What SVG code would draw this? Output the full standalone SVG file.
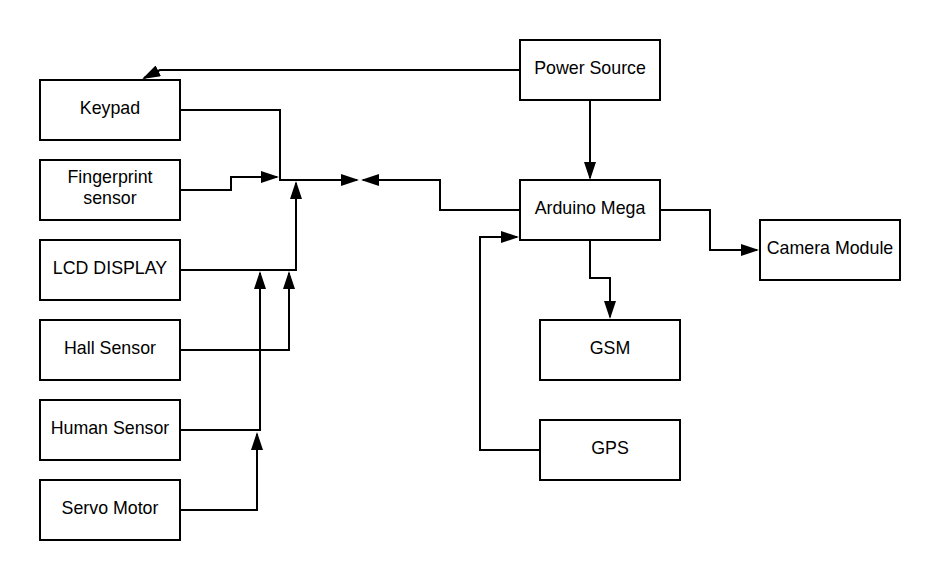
<svg xmlns="http://www.w3.org/2000/svg" width="940" height="580" viewBox="0 0 940 580">
<defs>
<marker id="arr" markerUnits="userSpaceOnUse" markerWidth="18" markerHeight="12" refX="16" refY="6" orient="auto">
<path d="M0,0 L18,6 L0,12 z" fill="#000"/>
</marker>
<style>
.box{fill:#fff;stroke:#000;stroke-width:2}
.lbl{font-family:"Liberation Sans",Arial,sans-serif;font-size:17.8px;fill:#000;text-anchor:middle}
.c{fill:none;stroke:#000;stroke-width:2;marker-end:url(#arr)}
</style>
</defs>
<rect width="940" height="580" fill="#fff"/>
<g id="connectors">
<path class="c" d="M520,70 H160 L144,78"/>
<path class="c" d="M590,100 V178"/>
<path class="c" d="M180,110 H280 V180 H357"/>
<path class="c" d="M180,190 H231 V177 H277"/>
<path class="c" d="M180,270 H296 V183"/>
<path class="c" d="M520,210 H440 V180 H363"/>
<path class="c" d="M180,350 H289 V273"/>
<path class="c" d="M180,430 H260 V273"/>
<path class="c" d="M180,510 H257 V434"/>
<path class="c" d="M660,210 H710 V250 H757"/>
<path class="c" d="M590,240 V278 H610 V317"/>
<path class="c" d="M540,450 H480 V237 H517"/>
</g>
<g id="keypad"><rect class="box" x="40" y="80" width="140" height="60"/><text class="lbl" x="110" y="114">Keypad</text></g>
<g id="fingerprint"><rect class="box" x="40" y="160" width="140" height="60"/><text class="lbl" x="110" y="183">Fingerprint</text><text class="lbl" x="110" y="204">sensor</text></g>
<g id="lcd"><rect class="box" x="40" y="240" width="140" height="60"/><text class="lbl" x="110" y="274">LCD DISPLAY</text></g>
<g id="hall"><rect class="box" x="40" y="320" width="140" height="60"/><text class="lbl" x="110" y="354">Hall Sensor</text></g>
<g id="human"><rect class="box" x="40" y="400" width="140" height="60"/><text class="lbl" x="110" y="434">Human Sensor</text></g>
<g id="servo"><rect class="box" x="40" y="480" width="140" height="60"/><text class="lbl" x="110" y="514">Servo Motor</text></g>
<g id="power"><rect class="box" x="520" y="40" width="140" height="60"/><text class="lbl" x="590" y="74">Power Source</text></g>
<g id="arduino"><rect class="box" x="520" y="180" width="140" height="60"/><text class="lbl" x="590" y="214">Arduino Mega</text></g>
<g id="camera"><rect class="box" x="760" y="220" width="140" height="60"/><text class="lbl" x="830" y="254">Camera Module</text></g>
<g id="gsm"><rect class="box" x="540" y="320" width="140" height="60"/><text class="lbl" x="610" y="354">GSM</text></g>
<g id="gps"><rect class="box" x="540" y="420" width="140" height="60"/><text class="lbl" x="610" y="454">GPS</text></g>
</svg>
